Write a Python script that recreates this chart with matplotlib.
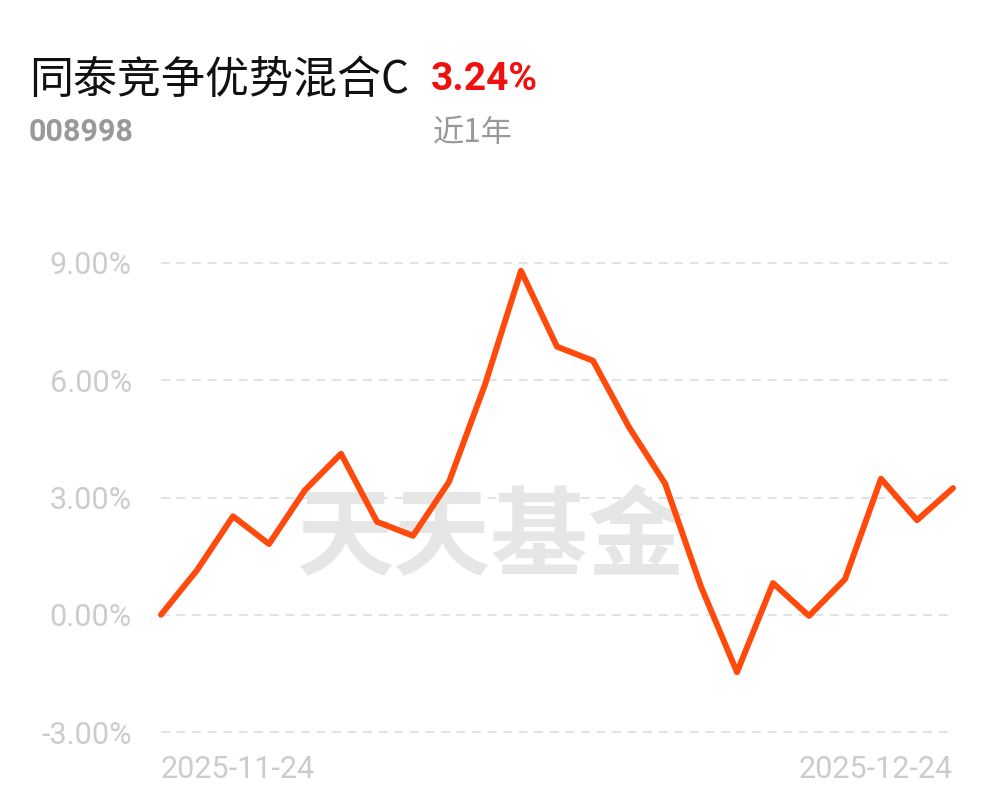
import matplotlib
matplotlib.use("Agg")
import matplotlib.pyplot as plt

# ---- data ----
fund_name = "同泰竞争优势混合C"
fund_code = "008998"
period_return = "3.24%"
period_label = "近1年"
watermark = "天天基金"
start_label = "2025-11-24"
end_label = "2025-12-24"
returns = [0.00, 1.14, 2.52, 1.81, 3.19, 4.12, 2.38, 2.02, 3.40, 5.89, 8.80, 6.86,
           6.50, 4.80, 3.36, 0.72, -1.47, 0.81, -0.03, 0.91, 3.48, 2.42, 3.24]
yticks = [-3, 0, 3, 6, 9]
ytick_labels = ["-3.00%", "0.00%", "3.00%", "6.00%", "9.00%"]

plt.rcParams['font.family'] = ['Noto Sans CJK SC', 'DejaVu Sans']

W, H = 997, 802
fig = plt.figure(figsize=(W / 100, H / 100), dpi=100)
fig.patch.set_facecolor("white")

def fx(px):
    return px / W

def fy(py):
    return 1 - py / H

ax = fig.add_axes([fx(161), fy(732), fx(953) - fx(161), fy(263) - fy(732)])
ax.set_xlim(0, len(returns) - 1)
ax.set_ylim(-3, 9)
for s in ax.spines.values():
    s.set_visible(False)
ax.set_xticks([])
ax.set_yticks(yticks)
ax.set_yticklabels(ytick_labels, fontfamily=['Roboto', 'DejaVu Sans'], fontsize=22, color="#cccccc")
ax.tick_params(axis='y', length=0, pad=21)

for t in yticks:
    ax.axhline(t, color="#e2e2e2", lw=1.4, ls=(0, (4.5, 3.5)), zorder=1, clip_on=False)

ax.text(0.416, 0.41, watermark, transform=ax.transAxes, ha="center", va="center",
        fontsize=70, fontweight="heavy", color="#e6e6e6", zorder=2)

ax.plot(range(len(returns)), returns, color="#ff4a0c", lw=4.3, solid_joinstyle="round",
        solid_capstyle="round", zorder=3, clip_on=False)

ax.text(0, -0.05, start_label, transform=ax.transAxes, ha="left", va="top",
        fontfamily=['Roboto', 'DejaVu Sans'], fontsize=22, color="#cccccc")
ax.text(1, -0.05, end_label, transform=ax.transAxes, ha="right", va="top",
        fontfamily=['Roboto', 'DejaVu Sans'], fontsize=22, color="#cccccc")

fig.text(fx(29), fy(80), fund_name, ha="left", va="center", fontsize=31.7, color="#111111")
fig.text(fx(431), fy(80), period_return, ha="left", va="center", fontsize=28,
         fontweight="bold", color="#f01010", fontfamily=['Roboto', 'DejaVu Sans'])
fig.text(fx(29), fy(132), fund_code, ha="left", va="center", fontsize=22,
         fontweight="bold", color="#999999", fontfamily=['Roboto', 'DejaVu Sans'])
fig.text(fx(433), fy(133), period_label, ha="left", va="center", fontsize=22.5, color="#999999")

fig.savefig("out.png", dpi=100, facecolor="white")
